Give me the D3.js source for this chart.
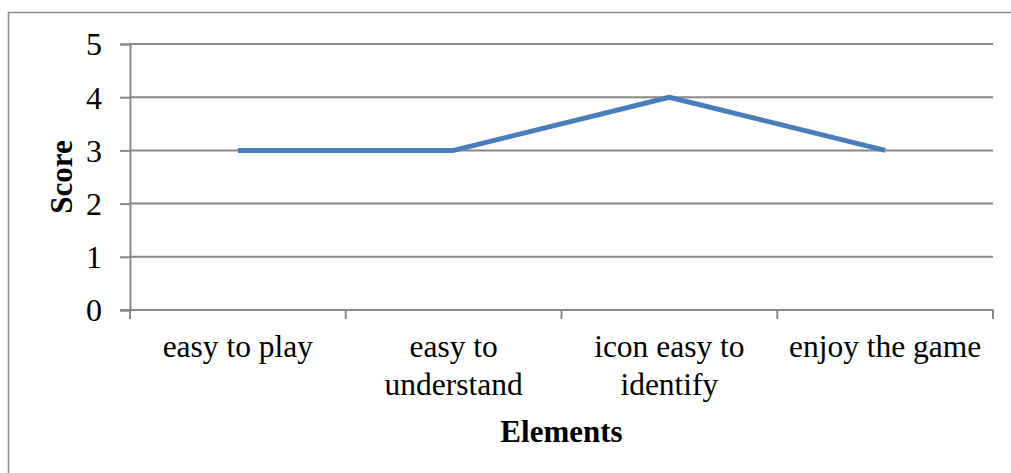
<!DOCTYPE html>
<html>
<head>
<meta charset="utf-8">
<script src="https://cdn.jsdelivr.net/npm/d3@7"></script>
<style>
  html, body { margin: 0; padding: 0; background: #fff; }
  svg { display: block; }
  text { font-family: "Liberation Serif", "Times New Roman", serif; fill: #000; }
</style>
</head>
<body>
<svg id="chart" width="1011" height="473"></svg>
<script>
// Scores per game element
const categories = [["easy to play"], ["easy to", "understand"], ["icon easy to", "identify"], ["enjoy the game"]];
const scores = [3, 3, 4, 3];
const yTicks = [0, 1, 2, 3, 4, 5];

const svg = d3.select("#chart");
const plot = { left: 130, right: 993, top: 44, bottom: 310 };

// outer chart frame (only top and left edges fall inside the view)
svg.append("rect")
  .attr("x", 8.5).attr("y", 12.5)
  .attr("width", 1100).attr("height", 600)
  .attr("fill", "#fff").attr("stroke", "#8c8c8c").attr("stroke-width", 1.5);

const x = d3.scaleBand()
  .domain(categories.map((d, i) => i))
  .range([plot.left, plot.right]).paddingInner(0).paddingOuter(0);
const y = d3.scaleLinear().domain([0, 5]).range([plot.bottom, plot.top]);

const gridColor = "#898989";

// horizontal gridlines
svg.append("g").selectAll("line").data(yTicks.filter(d => d > 0)).join("line")
  .attr("x1", plot.left).attr("x2", plot.right)
  .attr("y1", d => y(d)).attr("y2", d => y(d))
  .attr("stroke", gridColor).attr("stroke-width", 2);

// y axis
const yAxis = svg.append("g")
  .attr("transform", `translate(${plot.left},0)`)
  .call(d3.axisLeft(y).tickValues(yTicks).tickFormat(d3.format("d")).tickSize(10).tickPadding(18));
yAxis.select(".domain").attr("stroke", gridColor).attr("stroke-width", 2);
yAxis.selectAll(".tick line").attr("stroke", gridColor).attr("stroke-width", 2);
yAxis.selectAll(".tick text")
  .style("font-family", "'Liberation Serif', 'Times New Roman', serif")
  .style("font-size", "32px").attr("fill", "#000").attr("dy", "0.34em");

// x axis baseline with category boundary ticks
const xEdges = categories.map((d, i) => x(i)).concat([plot.right]);
svg.append("line")
  .attr("x1", plot.left - 10).attr("x2", plot.right)
  .attr("y1", y(0)).attr("y2", y(0))
  .attr("stroke", gridColor).attr("stroke-width", 2);
svg.append("g").selectAll("line").data(xEdges).join("line")
  .attr("x1", d => d).attr("x2", d => d)
  .attr("y1", y(0)).attr("y2", y(0) + 9)
  .attr("stroke", gridColor).attr("stroke-width", 2);

// category labels
const labels = svg.append("g").selectAll("text").data(categories).join("text")
  .attr("text-anchor", "middle")
  .style("font-size", "31.5px");
labels.each(function(lines, i) {
  d3.select(this).selectAll("tspan").data(lines).join("tspan")
    .attr("x", x(i) + x.bandwidth() / 2)
    .attr("y", (d, j) => 357 + j * 38)
    .text(d => d);
});

// score line
const line = d3.line()
  .x((d, i) => x(i) + x.bandwidth() / 2)
  .y(d => y(d));
svg.append("path").datum(scores)
  .attr("d", line)
  .attr("fill", "none")
  .attr("stroke", "#4a7ebb")
  .attr("stroke-width", 5)
  .attr("stroke-linejoin", "round");

// axis titles
svg.append("text")
  .attr("x", (plot.left + plot.right) / 2).attr("y", 442)
  .attr("text-anchor", "middle")
  .style("font-size", "31px").style("font-weight", "bold")
  .text("Elements");
svg.append("text")
  .attr("transform", `translate(72,${(plot.top + plot.bottom) / 2}) rotate(-90)`)
  .attr("text-anchor", "middle")
  .style("font-size", "31px").style("font-weight", "bold")
  .text("Score");
</script>
</body>
</html>
